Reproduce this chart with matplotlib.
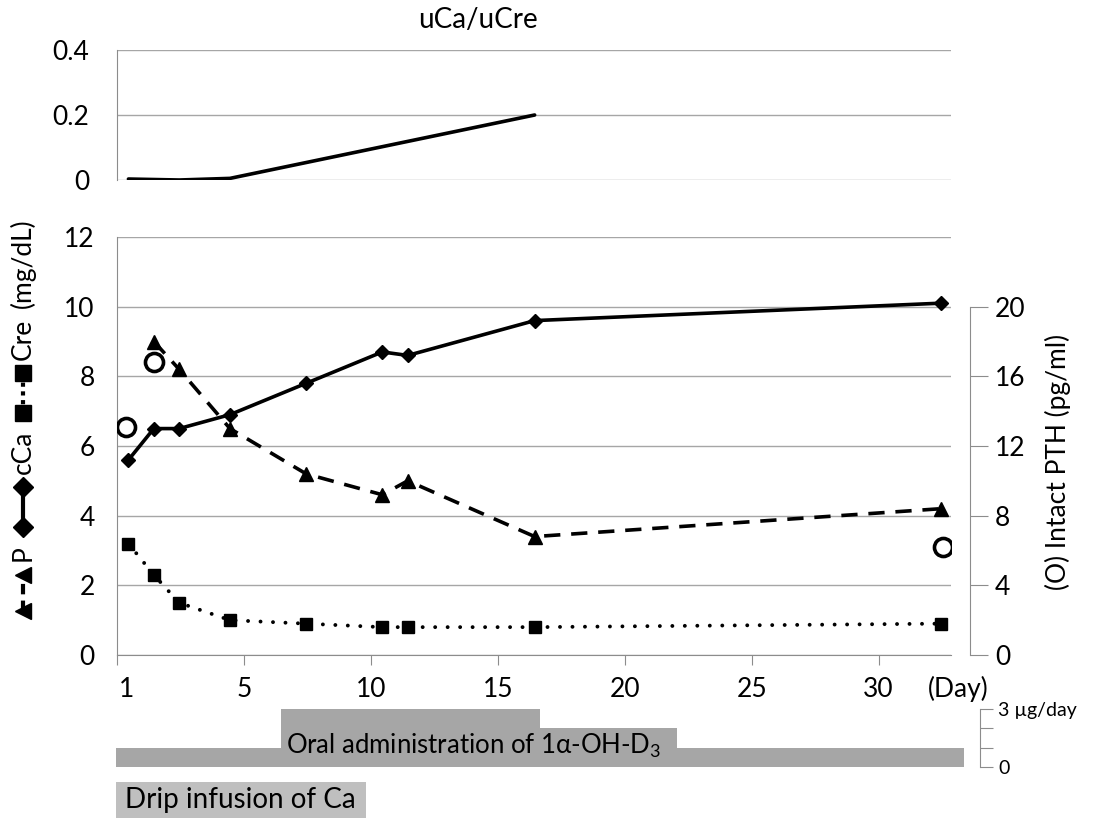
import matplotlib
matplotlib.use("Agg")
import matplotlib.pyplot as plt
import numpy as np
from matplotlib.lines import Line2D
from matplotlib.patches import Rectangle
from matplotlib.transforms import ScaledTranslation

plt.rcParams['font.family'] = ['Lato', 'DejaVu Sans']
plt.rcParams['mathtext.fontset'] = 'custom'
plt.rcParams['mathtext.rm'] = 'Lato'

# ---- data ----
days = [1, 2, 3, 5, 8, 11, 12, 17, 33]
cCa = [5.6, 6.5, 6.5, 6.9, 7.8, 8.7, 8.6, 9.6, 10.1]
cre = [3.2, 2.3, 1.5, 1.0, 0.9, 0.8, 0.8, 0.8, 0.9]
p_days = [2, 3, 5, 8, 11, 12, 17, 33]
p_val = [9.0, 8.2, 6.5, 5.2, 4.6, 5.0, 3.4, 4.2]
pth_days = [0.9, 2, 33.1]
pth_val = [13.1, 16.8, 6.2]
ucr_days = [1, 3, 5, 17]
ucr_val = [0.003, 0.0, 0.005, 0.2]
day_ticks = ['1', '5', '10', '15', '20', '25', '30']

# dosing: (start day, end day, ug/day)
d3_start = [0.5, 7.0, 17.2]
d3_end = [33.9, 17.2, 22.6]
d3_dose = [1, 3, 2]
ca_start, ca_end = 0.5, 10.35

W, H = 1104, 821
GRID = '#a6a6a6'
SPINE = '#8c8c8c'
OFF = 0.55          # day axis offset (first tick sits at the left edge)
XLIM = (OFF, 33.4)
FS = 19


def box(x0, y0, x1, y1):
    return [x0 / W, 1 - y1 / H, (x1 - x0) / W, (y1 - y0) / H]


def fy(py):
    return 1 - py / H


fig = plt.figure(figsize=(W / 100, H / 100), dpi=100)

# ---- top panel: uCa/uCre ----
ax_top = fig.add_axes(box(117, 50, 951, 180))
ax_top.plot(ucr_days, ucr_val, color='black', lw=2.6, solid_capstyle='round')
ax_top.set_xlim(XLIM)
ax_top.set_ylim(0, 0.4)
ax_top.set_yticks([0, 0.2, 0.4], ['0', '0.2', '0.4'])
ax_top.grid(axis='y', color=GRID, lw=1)
ax_top.set_xticks([])
for s in ['top', 'right', 'bottom']:
    ax_top.spines[s].set_visible(False)
ax_top.spines['left'].set_color(SPINE)
ax_top.tick_params(axis='y', length=0, labelsize=FS, pad=20)
fig.text(478 / W, fy(20), 'uCa/uCre', ha='center', va='center', fontsize=20)

# ---- main panel ----
ax = fig.add_axes(box(117, 237, 951, 655))
ax.plot(days, cCa, color='black', lw=2.6, marker='D', ms=7, zorder=4)
ax.plot(p_days, p_val, color='black', lw=2.6, dashes=(4.5, 3), marker='^', ms=10, zorder=4)
ax.plot(days, cre, color='black', lw=2.8, linestyle=(0, (0.01, 3.2)), dash_capstyle='round',
        marker='s', ms=9, zorder=4)
ax.set_xlim(XLIM)
ax.set_ylim(0, 12)
ax.set_yticks(np.arange(0, 13, 2))
ax.grid(axis='y', color=GRID, lw=1)
ax.set_axisbelow(True)
for s in ['top', 'right']:
    ax.spines[s].set_visible(False)
ax.spines['left'].set_color(SPINE)
ax.spines['bottom'].set_color(SPINE)
ax.tick_params(axis='y', length=0, labelsize=FS, pad=16)
ax.set_xticks(OFF + np.arange(0, 31, 5), day_ticks)
ax.tick_params(axis='x', direction='out', length=7, color=SPINE, labelsize=FS, pad=9)
lab0 = ax.get_xticklabels()[0]
lab0.set_transform(lab0.get_transform() + ScaledTranslation(0.1, 0, fig.dpi_scale_trans))
fig.text(958 / W, fy(689), '(Day)', ha='center', va='center', fontsize=FS)

# right axis: intact PTH
ax2 = ax.twinx()
ax2.plot(pth_days, pth_val, linestyle='none', marker='o', ms=13, mfc='white',
         mec='black', mew=2.6, zorder=5)
ax2.set_ylim(0, 24)
ax2.set_yticks(np.arange(0, 21, 4))
for s in ['top', 'left', 'bottom']:
    ax2.spines[s].set_visible(False)
ax2.spines['right'].set_position(('axes', 1.023))
ax2.spines['right'].set_bounds(0, 20)
ax2.spines['right'].set_color(SPINE)
ax2.tick_params(axis='y', direction='out', length=13, color=SPINE, labelsize=FS, pad=5)
fig.text(1058 / W, fy(462), '(O) Intact PTH (pg/ml)', rotation=90,
         ha='center', va='center', fontsize=FS)

# left composite y label
xl = 23 / W
fig.add_artist(Line2D([xl, xl], [fy(611), fy(575)], transform=fig.transFigure, color='black',
                      lw=3, dashes=(2.5, 1.5), marker='<', ms=11))
fig.text(xl, fy(553), 'P', rotation=90, ha='center', va='center', fontsize=19)
fig.add_artist(Line2D([xl, xl], [fy(527), fy(487)], transform=fig.transFigure, color='black',
                      lw=3, marker='D', ms=10))
fig.text(xl, fy(452), 'cCa', rotation=90, ha='center', va='center', fontsize=19)
fig.add_artist(Line2D([xl, xl], [fy(413), fy(373)], transform=fig.transFigure, color='black',
                      lw=3, linestyle=(0, (1, 1.1)), marker='s', ms=12))
fig.text(xl, fy(339), 'Cre', rotation=90, ha='center', va='center', fontsize=19)
fig.text(xl, fy(263), '(mg/dL)', rotation=90, ha='center', va='center', fontsize=19)

# ---- dosing bars ----
ax_d = fig.add_axes(box(117, 709, 951, 767))
for s0, s1, d in zip(d3_start, d3_end, d3_dose):
    ax_d.add_patch(Rectangle((s0, 0), s1 - s0, d, facecolor='#a6a6a6', edgecolor='none',
                             clip_on=False))
ax_d.set_xlim(XLIM)
ax_d.set_ylim(0, 3)
ax_d.set_xticks([])
for s in ['top', 'left', 'bottom']:
    ax_d.spines[s].set_visible(False)
ax_d.spines['right'].set_position(('axes', 1.035))
ax_d.spines['right'].set_color(SPINE)
ax_d.yaxis.tick_right()
ax_d.set_yticks([0, 1, 2, 3], ['0', '', '', '3 \u00b5g/day'])
ax_d.tick_params(axis='y', direction='out', length=9, color=SPINE, labelsize=14, pad=4)
ax_d.set_facecolor('none')
ax_d.text(7.2, 1.1, 'Oral administration of 1\u03b1-OH-D$\\mathregular{_3}$', ha='left',
          va='center', fontsize=18.5)

ax_c = fig.add_axes(box(117, 782, 951, 818))
ax_c.add_patch(Rectangle((ca_start, 0), ca_end - ca_start, 1, facecolor='#bfbfbf',
                         edgecolor='none', clip_on=False))
ax_c.set_xlim(XLIM)
ax_c.set_ylim(0, 1)
ax_c.axis('off')
ax_c.text((ca_start + ca_end) / 2, 0.5, 'Drip infusion of Ca', ha='center', va='center',
          fontsize=20)

fig.savefig('out.png', dpi=100)
